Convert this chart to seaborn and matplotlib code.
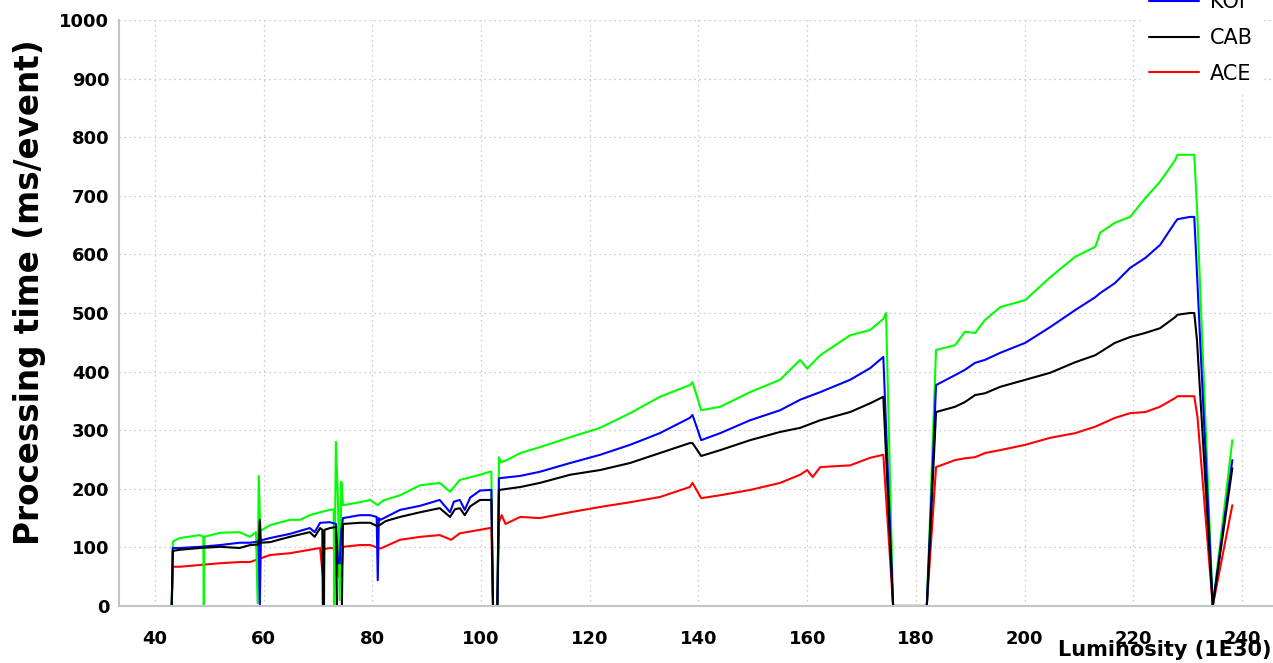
import matplotlib
matplotlib.use("Agg")
import matplotlib.pyplot as plt
import pandas as pd
import seaborn as sns
from matplotlib.lines import Line2D
from matplotlib.ticker import MultipleLocator

# ── Data ──────────────────────────────────────────────────────────────────────
green_x = [43.1, 43.3, 44.6, 48.3, 48.9, 49.0, 49.1, 52.0, 55.6, 57.5, 58.6, 58.9,
           59.1, 59.4, 61.2, 64.8, 66.7, 68.5, 70.4, 72.2, 72.9, 73.0, 73.3, 73.7,
           74.0, 74.3, 74.6, 77.7, 79.6, 81.0, 82.0, 85.1, 88.8, 92.4, 94.3, 96.1,
           99.8, 101.6, 101.9, 102.2, 103.0, 103.3, 103.6, 105.0, 107.2, 110.8,
           116.4, 121.9, 127.4, 132.9, 138.4, 138.9, 140.5, 144.0, 149.5, 155.0,
           158.7, 160.0, 162.4, 167.9, 171.6, 174.0, 174.5, 175.8, 182.0, 183.7,
           187.2, 189.0, 190.9, 192.7, 195.5, 200.1, 204.7, 209.3, 213.0, 213.9,
           216.6, 219.4, 222.2, 224.9, 227.7, 228.1, 231.2, 231.7, 234.6, 238.2]
green_y = [0, 110, 116, 121, 118, 0, 118, 125, 126, 118, 126, 5,
           222, 128, 138, 147, 147, 155, 160, 164, 165, 0, 280, 175,
           10, 212, 172, 177, 181, 172, 180, 189, 206, 210, 195, 215,
           224, 229, 229, 0, 0, 254, 245, 250, 261, 271,
           288, 304, 329, 357, 377, 382, 334, 340, 365, 386,
           420, 405, 428, 462, 471, 490, 500, 0, 0, 437,
           445, 468, 466, 488, 510, 522, 561, 596, 613, 637,
           654, 664, 696, 724, 761, 770, 770, 681, 0, 283]

koi_x = [43.1, 43.3, 44.6, 48.3, 52.0, 55.6, 57.5, 59.1, 59.3, 59.5, 61.2, 64.8,
         68.5, 69.4, 70.4, 72.2, 73.3, 73.7, 74.0, 74.3, 74.6, 77.7, 79.6, 80.8,
         81.0, 81.2, 81.5, 85.1, 88.8, 92.4, 94.3, 95.0, 96.1, 97.0, 98.0, 99.8,
         101.6, 101.9, 102.2, 103.0, 103.3, 107.2, 110.8, 116.4, 121.9, 127.4,
         132.9, 138.4, 138.9, 140.5, 144.0, 149.5, 155.0, 158.7, 162.4, 167.9,
         171.6, 174.0, 175.8, 182.0, 183.7, 187.2, 189.0, 190.9, 192.7, 195.5,
         200.1, 204.7, 209.3, 213.0, 213.9, 216.6, 219.4, 222.2, 224.9, 227.7,
         228.1, 230.4, 231.2, 231.5, 234.6, 238.2]
koi_y = [0, 99, 99, 101, 104, 108, 108, 110, 0, 112, 116, 123,
         133, 126, 142, 143, 140, 73, 73, 130, 150, 155, 155, 152,
         44, 150, 147, 164, 171, 181, 160, 178, 181, 164, 185, 197,
         198, 198, 0, 0, 218, 222, 229, 244, 258, 275,
         295, 321, 326, 283, 295, 317, 334, 352, 365, 386,
         406, 425, 0, 0, 377, 394, 403, 415, 420, 432,
         449, 476, 505, 527, 534, 551, 577, 594, 616, 655,
         660, 664, 664, 607, 0, 249]

cab_x = [43.1, 43.3, 44.6, 48.3, 52.0, 55.6, 57.5, 59.1, 59.3, 59.5, 61.2, 64.8,
         68.5, 69.4, 70.4, 70.8, 70.9, 71.1, 71.2, 72.2, 73.3, 73.5, 74.4, 74.6,
         77.7, 79.6, 81.0, 82.5, 85.1, 88.8, 92.4, 94.3, 95.2, 96.1, 97.0, 98.0,
         99.8, 101.6, 101.9, 102.2, 103.0, 103.3, 107.2, 110.8, 116.4, 121.9,
         127.4, 132.9, 138.4, 138.9, 140.5, 144.0, 149.5, 155.0, 158.7, 162.4,
         167.9, 171.6, 174.0, 175.8, 182.0, 183.7, 187.2, 189.0, 190.9, 192.7,
         195.5, 200.1, 204.7, 209.3, 213.0, 216.6, 219.4, 222.2, 224.9, 227.7,
         228.1, 230.4, 231.2, 231.7, 234.6, 238.2]
cab_y = [0, 94, 96, 99, 101, 99, 104, 105, 147, 108, 109, 118,
         126, 118, 133, 130, 0, 0, 130, 133, 135, 0, 0, 140,
         142, 142, 136, 145, 152, 160, 167, 152, 165, 167, 155, 170,
         181, 181, 181, 0, 0, 198, 203, 210, 224, 232,
         244, 261, 278, 278, 256, 266, 283, 297, 304, 317,
         331, 346, 357, 0, 0, 331, 340, 348, 360, 363,
         374, 386, 398, 416, 428, 449, 459, 466, 474, 493,
         497, 500, 500, 454, 0, 235]

ace_x = [43.1, 43.3, 44.6, 48.3, 52.0, 55.6, 57.5, 61.2, 64.8, 68.5, 70.4, 70.9,
         71.1, 72.2, 73.5, 73.8, 74.3, 74.6, 77.7, 79.6, 81.5, 85.1, 88.8, 92.4,
         94.5, 96.1, 99.8, 101.6, 101.9, 102.2, 103.0, 103.3, 103.8, 104.5, 107.2,
         110.8, 116.4, 121.9, 127.4, 132.9, 138.4, 138.9, 140.5, 144.0, 149.5,
         155.0, 158.7, 160.0, 161.0, 162.4, 167.9, 171.6, 174.0, 175.8, 182.0,
         183.7, 187.2, 189.0, 190.9, 192.7, 195.5, 200.1, 204.7, 209.3, 213.0,
         216.6, 219.4, 222.2, 224.9, 227.7, 228.1, 231.2, 231.8, 234.6, 238.2]
ace_y = [0, 67, 67, 70, 73, 75, 75, 87, 90, 96, 99, 50,
         97, 99, 98, 50, 50, 101, 104, 104, 98, 113, 118, 121,
         113, 124, 130, 133, 133, 0, 0, 143, 155, 140, 152,
         150, 160, 169, 177, 186, 203, 210, 184, 189, 198,
         210, 224, 232, 220, 237, 240, 253, 258, 0, 0,
         237, 249, 252, 254, 261, 266, 275, 287, 295, 306,
         321, 329, 331, 340, 355, 358, 358, 322, 0, 172]

series = [  # drawing order, bottom to top
    ("ACE", ace_x, ace_y, "#ff0000"),
    ("other", green_x, green_y, "#00ff00"),
    ("KOI", koi_x, koi_y, "#0000ff"),
    ("CAB", cab_x, cab_y, "#000000"),
]
legend_names = ["KOI", "CAB", "ACE"]
legend_colors = ["#0000ff", "#000000", "#ff0000"]

# ── Style ─────────────────────────────────────────────────────────────────────
sns.set_style("white")
plt.rcParams["font.family"] = ["DejaVu Sans"]
plt.rcParams["text.color"] = "black"
GRAY = "#c4c4c4"

fig = plt.figure(figsize=(12.73, 6.63), dpi=100)
ax = fig.add_axes([119 / 1273, 57 / 663, 1153 / 1273, 586 / 663])

for name, xs, ys, col in series:
    df = pd.DataFrame({"lumi": xs, "time": ys})
    sns.lineplot(data=df, x="lumi", y="time", color=col, lw=1.5,
                 estimator=None, sort=False, ax=ax)

ax.set_xlim(33.4, 245.5)
ax.set_ylim(0, 1000)
ax.xaxis.set_major_locator(MultipleLocator(20))
ax.xaxis.set_minor_locator(MultipleLocator(5))
ax.yaxis.set_major_locator(MultipleLocator(100))
ax.yaxis.set_minor_locator(MultipleLocator(20))

ax.grid(True, which="major", color="#bdbdbd", linestyle=(0, (1, 3)), lw=0.9)
ax.tick_params(axis="both", which="both", direction="in", color=GRAY,
               width=1.2, labelcolor="black")
ax.tick_params(axis="y", which="major", length=24, pad=7)
ax.tick_params(axis="y", which="minor", length=12)
ax.tick_params(axis="x", which="major", length=14, pad=17)
ax.tick_params(axis="x", which="minor", length=8)
for lab in ax.get_xticklabels() + ax.get_yticklabels():
    lab.set_fontweight("bold")
    lab.set_fontsize(13)

for side in ["top", "right"]:
    ax.spines[side].set_visible(False)
for side in ["left", "bottom"]:
    ax.spines[side].set_color(GRAY)
    ax.spines[side].set_linewidth(1.5)

ax.set_xlabel("")
ax.set_ylabel("")
fig.text(30 / 1273, 1 - 292 / 663, "Processing time (ms/event)", rotation=90,
         ha="center", va="center", fontsize=23.5, fontweight="bold", color="black")
fig.text(0.999, 1 - 650 / 663, "Luminosity (1E30)", ha="right", va="center",
         fontsize=15, fontweight="bold", color="black")

handles = [Line2D([0], [0], color=c, lw=1.5) for c in legend_colors]
leg = fig.legend(handles, legend_names, loc="center left",
                 bbox_to_anchor=(1141 / 1273, 1 - 38 / 663), frameon=True,
                 fontsize=15, handlelength=2.4, handletextpad=0.5,
                 labelspacing=0.75, borderpad=0.4, borderaxespad=0,
                 labelcolor="black")
leg.get_frame().set_facecolor("white")
leg.get_frame().set_edgecolor("white")
leg.get_frame().set_alpha(1.0)

fig.savefig("out.png", dpi=100)
